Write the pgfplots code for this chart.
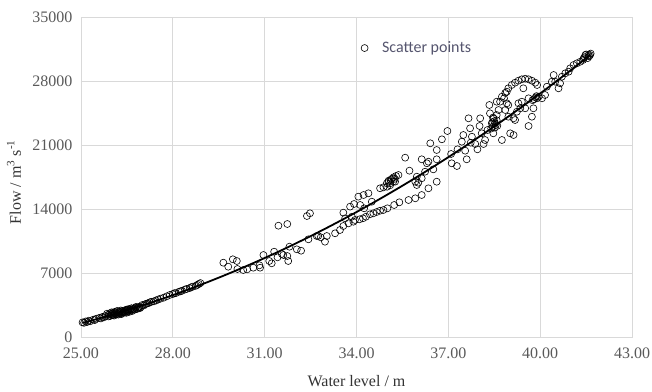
\documentclass[border=0pt]{standalone}
\usepackage{pgfplots}
\pgfplotsset{compat=1.18}
\usepackage{pgfplotstable}
\usepackage{fontspec}
\setmainfont{Liberation Serif}
\newfontfamily\carlito{Carlito}
\definecolor{gridgray}{HTML}{D9D9D9}
\definecolor{tickgray}{HTML}{595959}
\definecolor{labelgray}{HTML}{333333}
\definecolor{legendgray}{RGB}{85,85,110}

\pgfplotstableread{
x y
25.05 1600
25.10 1550
25.15 1700
25.20 1640
25.25 1780
25.30 1720
25.40 1900
25.45 1850
25.50 2000
25.60 2100
25.65 2030
25.70 2200
25.75 2150
25.80 2300
25.85 2550
25.90 2450
25.95 2600
26.00 2380
26.05 2650
26.10 2500
26.15 2700
26.20 2550
26.25 2800
26.30 2650
26.35 2850
26.40 2750
26.45 2950
26.50 2850
26.55 3050
26.60 2950
26.65 3150
26.70 3050
26.80 3300
26.90 3300
27.00 3500
27.10 3600
27.20 3700
27.30 3850
27.45 4000
27.60 4200
27.70 4300
27.80 4450
27.90 4600
28.00 4700
28.10 4800
28.20 4950
28.30 5050
28.45 5250
28.55 5350
28.65 5500
28.75 5600
28.85 5800
28.90 5900
25.95 2300
26.00 2700
26.05 2400
26.15 2450
26.25 2600
26.35 2600
26.45 2700
26.55 2800
26.65 2900
26.75 3000
26.85 3150
26.95 3250
26.10 2750
26.30 2900
26.50 3000
25.90 2250
25.98 2500
26.02 2550
26.08 2350
26.12 2600
26.18 2850
26.22 2450
26.28 2750
26.32 2500
26.38 2700
26.42 2850
26.48 2650
26.52 2950
26.58 2750
26.62 3050
26.68 2850
26.72 3100
26.78 3200
26.82 3050
26.88 3250
26.92 3150
27.05 3450
27.15 3650
27.25 3800
27.38 3900
27.52 4100
28.05 4800
28.25 5000
28.40 5200
28.60 5450
28.80 5700
}\scatterdata

\pgfplotstableread{
x y
29.65 8127
29.81 7690
29.96 8500
30.09 8313
30.11 7438
30.30 7328
30.43 7405
30.63 7580
30.83 7842
30.85 7580
30.96 8969
31.15 8313
31.23 8061
31.31 9330
31.42 8717
31.56 9078
31.61 8969
31.74 8859
31.77 8313
31.81 9877
32.05 9592
32.19 9439
31.45 12173
31.74 12359
32.38 13234
32.48 13530
32.43 10686
32.75 11047
32.97 10424
33.03 11047
33.57 13600
33.79 14256
33.92 14547
34.06 15350
34.23 15531
34.39 15718
34.12 14438
34.25 14076
34.50 14801
34.77 16264
34.88 16373
34.99 16811
35.04 16989
35.12 17172
35.21 17468
35.29 17609
35.37 17719
35.59 19614
35.73 18190
35.97 17535
36.02 16877
36.13 19436
36.30 18999
36.35 16264
36.13 15531
35.92 15170
35.70 14984
35.40 14733
35.23 14438
35.01 14076
34.88 13891
34.77 13814
34.66 13672
34.55 13530
34.44 13420
34.31 13158
34.21 12983
34.10 12873
33.90 12611
33.74 12436
33.57 12141
33.46 11703
33.30 11342
32.83 10905
32.70 11047
33.63 12983
33.85 13158
33.95 12797
36.41 21186
36.62 20453
36.35 19174
36.62 19436
36.24 18080
35.26 16986
35.10 16811
35.00 16439
35.97 16625
36.62 16986
36.13 17358
35.92 16986
35.05 17100
35.15 17300
35.20 17000
35.10 16600
35.25 17300
36.51 18338
36.79 21623
36.97 22531
37.09 20016
37.11 18999
37.28 18703
37.30 20530
37.44 21361
37.49 22094
37.55 20377
37.60 19436
37.66 23920
37.71 22827
37.77 21908
37.73 21252
37.88 21109
37.95 20530
38.02 23078
38.04 23920
38.09 22280
38.15 21109
38.20 21547
38.28 22641
38.34 25375
38.36 24467
38.42 23374
38.47 22280
38.53 23374
38.64 24828
38.69 25736
38.75 21547
38.82 26108
38.91 26830
38.96 25375
39.02 22280
39.13 22094
39.18 23734
39.24 24642
39.29 25561
39.35 25014
38.45 23000
38.50 23600
38.55 23200
38.48 23900
38.40 22800
38.58 23700
38.52 22900
38.44 23500
38.60 23100
38.46 24000
38.58 25736
38.75 26283
38.86 26700
38.96 27202
39.07 27563
39.18 27814
39.29 28033
39.40 28186
39.51 28252
39.62 28186
39.73 28033
39.84 27814
39.90 27563
39.45 27202
38.58 24281
38.86 24828
38.91 25561
38.96 24095
39.13 23920
39.40 25736
39.51 25014
39.62 26108
39.73 24095
39.78 25014
39.90 26108
39.95 26283
40.06 26108
40.16 26469
40.22 27377
40.44 28656
40.38 27923
40.49 27923
40.60 27202
40.65 27748
40.71 28470
40.82 28842
40.93 29017
40.98 29389
41.09 29750
41.20 29936
41.31 30111
41.42 30483
41.48 30844
41.58 30844
41.63 30844
39.62 23078
39.80 26000
39.85 26200
39.75 25900
39.88 26350
41.45 30600
41.55 30500
41.60 30700
41.50 30900
41.40 30300
41.65 31000
}\scatterdatab

\pgfplotstableread{
x y
25.05 1543
25.5 1947
26.0 2420
26.5 2921
27.0 3448
27.5 4003
28.0 4584
28.5 5193
29.0 5828
29.5 6491
30.0 7180
30.5 7897
31.0 8640
31.5 9411
32.0 10208
32.5 11033
33.0 11884
33.5 12763
34.0 13668
34.5 14601
35.0 15560
35.5 16547
36.0 17560
36.5 18601
37.0 19668
37.5 20763
38.0 21884
38.5 23033
39.0 24208
39.5 25411
40.0 26640
40.5 27897
41.0 29180
41.65 30889
}\fitdata

\begin{document}
\begin{tikzpicture}
\path[use as bounding box] (-81pt,-54pt) rectangle (571pt,337pt);
\begin{axis}[
  scale only axis,
  width=551pt, height=320pt,
  xmin=25, xmax=43, ymin=0, ymax=35000,
  xtick={25,28,31,34,37,40,43},
  ytick={0,7000,14000,21000,28000,35000},
  grid=major,
  major grid style={draw=gridgray, line width=0.8pt},
  axis line style={draw=gridgray, line width=0.8pt},
  tick style={draw=none},
  scaled ticks=false,
  /pgf/number format/assume math mode=true,
  xticklabel={\pgfmathprintnumber[fixed,fixed zerofill,precision=2]{\tick}},
  yticklabel={\pgfmathprintnumber[fixed,1000 sep={}]{\tick}},
  ticklabel style={font=\fontsize{16}{18}\selectfont, text=tickgray},
  xticklabel style={anchor=center, yshift=-16pt},
  yticklabel style={anchor=east, xshift=-5pt},
  xlabel={Water level / m},
  ylabel={Flow / m\textsuperscript{3} s\textsuperscript{-1}},
  label style={font=\fontsize{16}{18}\selectfont, text=labelgray},
  xlabel style={at={(axis description cs:0.5,0)}, anchor=center, yshift=-44pt},
  ylabel style={at={(axis description cs:0,0.484)}, anchor=center, yshift=67pt},
  legend style={at={(axis description cs:0.508,0.903)}, anchor=west, draw=none, fill=none,
    inner sep=0pt, font=\carlito\fontsize{16}{18}\selectfont, text=legendgray,
    /tikz/every odd column/.append style={column sep=12pt}},
  legend image code/.code={\draw[#1] plot coordinates {(0pt,0pt)};},
]
\addplot[only marks, mark=o, mark size=3.5pt, mark options={line width=0.6pt, draw=black}] table[x=x,y=y] {\scatterdata};
\addlegendentry{Scatter points}
\addplot[only marks, mark=o, mark size=3.5pt, mark options={line width=0.6pt, draw=black}, forget plot] table[x=x,y=y] {\scatterdatab};
\addplot[black, line width=1.8pt, smooth, forget plot] table[x=x,y=y] {\fitdata};
\end{axis}
\end{tikzpicture}
\end{document}
